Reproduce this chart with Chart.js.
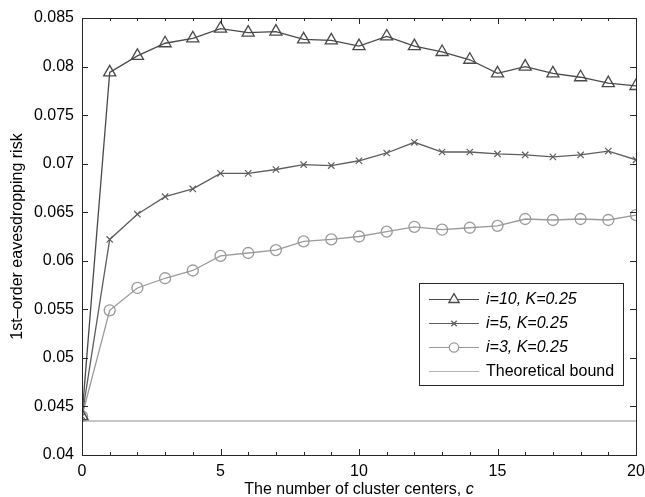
<!DOCTYPE html>
<html>
<head>
<meta charset="utf-8">
<script src="https://cdn.jsdelivr.net/npm/chart.js@4/dist/chart.umd.min.js"></script>
<style>
  html, body { margin: 0; padding: 0; background: #fff; }
  #wrap { width: 645px; height: 497px; position: relative; }
</style>
</head>
<body>
<div id="wrap"><canvas id="c" width="645" height="497"></canvas></div>
<script>
// ---- data ----
const clusterCenters = [0,1,2,3,4,5,6,7,8,9,10,11,12,13,14,15,16,17,18,19,20];
const riskI10 = [0.0440,0.0794,0.0811,0.0824,0.0829,0.0839,0.0835,0.0836,0.0828,0.0827,0.0821,0.0831,0.0821,0.0815,0.0807,0.0793,0.0800,0.0793,0.0789,0.0783,0.0780];
const riskI5  = [0.0440,0.0622,0.0648,0.0666,0.0674,0.0690,0.0690,0.0694,0.0699,0.0698,0.0703,0.0711,0.0722,0.0712,0.0712,0.0710,0.0709,0.0707,0.0709,0.0713,0.0704];
const riskI3  = [0.0440,0.0549,0.0572,0.0582,0.0590,0.0605,0.0608,0.0611,0.0620,0.0622,0.0625,0.0630,0.0635,0.0632,0.0634,0.0636,0.0643,0.0642,0.0643,0.0642,0.0647];
const theoreticalBound = 0.0435;
const seriesLabels = ['i=10, K=0.25', 'i=5, K=0.25', 'i=3, K=0.25', 'Theoretical bound'];
const xTickValues = [0,5,10,15,20];
const yTickValues = [0.04,0.045,0.05,0.055,0.06,0.065,0.07,0.075,0.08,0.085];
const xTitle = 'The number of cluster centers, ';
const xTitleVar = 'c';
const yTitle = '1st\u2013order eavesdropping risk';

const FONT = '"Liberation Sans", Arial, Helvetica, sans-serif';
const toPts = arr => arr.map((v, i) => ({x: clusterCenters[i], y: v}));

// inward ticks + frame + legend + x title
const framePlugin = {
  id: 'frame',
  afterDatasetsDraw(chart) {
    const {ctx, chartArea: a, scales: {x, y}} = chart;
    ctx.save();
    ctx.strokeStyle = '#262626';
    ctx.lineWidth = 1;
    ctx.beginPath();
    for (const v of clusterCenters) {
      const px = Math.round(x.getPixelForValue(v)) + 0.5;
      const len = (v % 5 === 0) ? 6 : 3;
      ctx.moveTo(px, a.bottom); ctx.lineTo(px, a.bottom - len);
      ctx.moveTo(px, a.top); ctx.lineTo(px, a.top + len);
    }
    for (const v of yTickValues) {
      const py = Math.round(y.getPixelForValue(v)) + 0.5;
      ctx.moveTo(a.left, py); ctx.lineTo(a.left + 6, py);
      ctx.moveTo(a.right, py); ctx.lineTo(a.right - 6, py);
    }
    ctx.stroke();
    ctx.strokeRect(Math.round(a.left) + 0.5, Math.round(a.top) + 0.5,
                   Math.round(a.right - a.left), Math.round(a.bottom - a.top));
    ctx.restore();
  },
  afterDraw(chart) {
    const {ctx, chartArea: a} = chart;
    ctx.save();
    ctx.fillStyle = '#000';
    ctx.textBaseline = 'alphabetic';
    const f1 = '16px ' + FONT, f2 = 'italic 16px ' + FONT;
    ctx.font = f1; const w1 = ctx.measureText(xTitle).width;
    ctx.font = f2; const w2 = ctx.measureText(xTitleVar).width;
    const cx = (a.left + a.right) / 2;
    const sx = cx - (w1 + w2) / 2;
    const by = 494;
    ctx.font = f1; ctx.textAlign = 'left'; ctx.fillText(xTitle, sx, by);
    ctx.font = f2; ctx.fillText(xTitleVar, sx + w1, by);

    // legend box
    const bx = 419, bTop = 283, bw = 204, bh = 102;
    ctx.fillStyle = '#fff';
    ctx.fillRect(bx, bTop, bw, bh);
    ctx.strokeStyle = '#262626';
    ctx.lineWidth = 1;
    ctx.strokeRect(bx + 0.5, bTop + 0.5, bw, bh);
    chart.data.datasets.forEach((d, i) => {
      const ry = bTop + 16 + i * 24;
      ctx.strokeStyle = d.borderColor;
      ctx.lineWidth = 1;
      ctx.beginPath();
      ctx.moveTo(bx + 10, ry + 0.5); ctx.lineTo(bx + 60, ry + 0.5);
      ctx.stroke();
      if (d.pointStyle && d.pointRadius > 0) {
        ctx.fillStyle = '#fff';
        ctx.strokeStyle = d.pointBorderColor;
        ctx.lineWidth = d.pointBorderWidth || 1;
        Chart.helpers.drawPoint(ctx, {
          pointStyle: d.pointStyle, rotation: 0, radius: d.pointRadius * 0.85,
          borderWidth: d.pointBorderWidth || 1
        }, bx + 35, ry + 0.5);
      }
      ctx.fillStyle = '#000';
      ctx.font = (i < 3 ? 'italic ' : '') + '16px ' + FONT;
      ctx.textAlign = 'left';
      ctx.textBaseline = 'middle';
      ctx.fillText(d.label, bx + 67, ry + 1);
    });
    ctx.restore();
  }
};

new Chart(document.getElementById('c'), {
  type: 'line',
  data: {
    datasets: [
      { label: seriesLabels[0], data: toPts(riskI10), borderColor: '#4a4a4a', borderWidth: 1.3,
        pointStyle: 'triangle', pointRadius: 7, pointBorderColor: '#4a4a4a', pointBackgroundColor: 'rgba(0,0,0,0)', pointBorderWidth: 1.3, tension: 0 },
      { label: seriesLabels[1], data: toPts(riskI5), borderColor: '#5e5e5e', borderWidth: 1.3,
        pointStyle: 'crossRot', pointRadius: 4.5, pointBorderColor: '#5e5e5e', pointBackgroundColor: 'rgba(0,0,0,0)', pointBorderWidth: 1.2, tension: 0 },
      { label: seriesLabels[2], data: toPts(riskI3), borderColor: '#9a9a9a', borderWidth: 1.3,
        pointStyle: 'circle', pointRadius: 5.5, pointBorderColor: '#9a9a9a', pointBackgroundColor: 'rgba(0,0,0,0)', pointBorderWidth: 1.3, tension: 0 },
      { label: seriesLabels[3], data: [{x: clusterCenters[0], y: theoreticalBound}, {x: clusterCenters[clusterCenters.length - 1], y: theoreticalBound}],
        borderColor: '#b4b4b4', borderWidth: 1.3, pointRadius: 0, pointStyle: false, tension: 0 }
    ]
  },
  options: {
    responsive: false,
    animation: false,
    layout: { padding: { left: 0, right: 9, top: 18, bottom: 0 } },
    plugins: { legend: { display: false }, tooltip: { enabled: false } },
    scales: {
      x: {
        type: 'linear', min: 0, max: 20,
        grid: { display: false, drawTicks: false },
        border: { display: false },
        afterBuildTicks: s => { s.ticks = xTickValues.map(v => ({value: v})); },
        afterFit: s => { s.height = 42; s.paddingLeft = 0; s.paddingRight = 0; },
        ticks: { padding: 7, color: '#000', font: { family: FONT, size: 16 }, maxRotation: 0 }
      },
      y: {
        type: 'linear', min: 0.04, max: 0.085,
        grid: { display: false, drawTicks: false },
        border: { display: false },
        afterBuildTicks: s => { s.ticks = yTickValues.map(v => ({value: v})); },
        afterFit: s => { s.width = 82; s.paddingTop = 0; s.paddingBottom = 0; },
        ticks: { padding: 8, color: '#000', font: { family: FONT, size: 16 },
                 callback: v => String(Number(v.toFixed(3))) },
        title: { display: true, text: yTitle, color: '#000', padding: { top: 8, bottom: 0 },
                 font: { family: FONT, size: 16 } }
      }
    }
  },
  plugins: [framePlugin]
});
</script>
</body>
</html>
